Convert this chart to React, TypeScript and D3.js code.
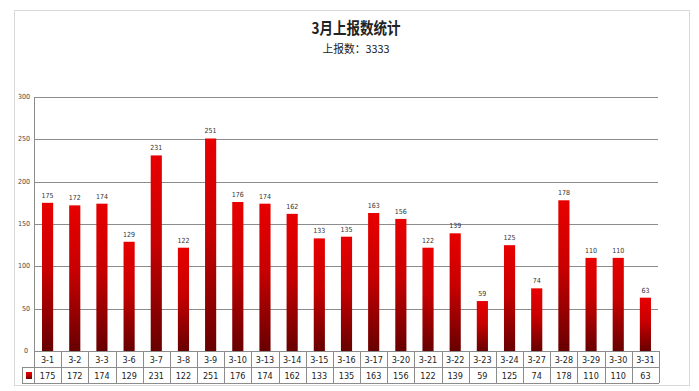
import React, { useEffect, useRef } from 'react';
import * as d3 from 'd3';

const categories = ['3-1', '3-2', '3-3', '3-6', '3-7', '3-8', '3-9', '3-10', '3-13', '3-14', '3-15', '3-16',
  '3-17', '3-20', '3-21', '3-22', '3-23', '3-24', '3-27', '3-28', '3-29', '3-30', '3-31'];
const reports = [175, 172, 174, 129, 231, 122, 251, 176, 174, 162, 133, 135,
  163, 156, 122, 139, 59, 125, 74, 178, 110, 110, 63];
const yTicks = [0, 50, 100, 150, 200, 250, 300];

const W = 699;
const H = 391;
const narrow = '"Liberation Sans Narrow", "DejaVu Sans Condensed", "Liberation Sans", sans-serif';
const cjk = '"Noto Sans CJK SC", sans-serif';

const App = () => {
  const ref = useRef<SVGSVGElement | null>(null);

  useEffect(() => {
    if (!ref.current) return;
    const svg = d3.select(ref.current);
    svg.selectAll('*').remove();

    const left = 34, right = 659, top = 97, bottom = 351;
    const rowH = 16;

    // gradient for the bars
    const grad = svg.append('defs').append('linearGradient')
      .attr('id', 'barFill')
      .attr('x1', 0).attr('y1', 0).attr('x2', 0).attr('y2', 1);
    grad.append('stop').attr('offset', '0%').attr('stop-color', '#e80000');
    grad.append('stop').attr('offset', '45%').attr('stop-color', '#c80000');
    grad.append('stop').attr('offset', '100%').attr('stop-color', '#680000');

    // chart frame
    svg.append('rect')
      .attr('x', 14.5).attr('y', 10.5)
      .attr('width', 675).attr('height', 375)
      .attr('fill', '#fff').attr('stroke', '#d9d9d9');

    // titles
    svg.append('text')
      .attr('x', 356).attr('y', 34)
      .attr('text-anchor', 'middle')
      .attr('textLength', 89).attr('lengthAdjust', 'spacingAndGlyphs')
      .style('font-family', cjk).style('font-size', '16px').style('font-weight', 'bold')
      .attr('fill', '#222')
      .text('3月上报数统计');
    svg.append('text')
      .attr('x', 356).attr('y', 53)
      .attr('text-anchor', 'middle')
      .attr('textLength', 67).attr('lengthAdjust', 'spacingAndGlyphs')
      .style('font-family', cjk).style('font-size', '11px')
      .attr('fill', '#222')
      .text('上报数：3333');

    const x = d3.scaleBand<string>()
      .domain(categories)
      .range([left, right])
      .paddingInner(0)
      .paddingOuter(0);
    const barW = x.bandwidth() * 0.41;

    const y = d3.scaleLinear().domain([0, 300]).range([bottom, top]);

    // grid lines
    svg.append('g').selectAll('line')
      .data(yTicks.slice(1))
      .enter()
      .append('line')
      .attr('x1', left).attr('x2', right - 1)
      .attr('y1', d => Math.round(y(d)) + 0.5).attr('y2', d => Math.round(y(d)) + 0.5)
      .attr('stroke', '#8c8c8c');

    // y axis
    svg.append('line')
      .attr('x1', left + 0.5).attr('x2', left + 0.5)
      .attr('y1', top).attr('y2', bottom)
      .attr('stroke', '#8c8c8c');
    svg.append('g').selectAll('text')
      .data(yTicks)
      .enter()
      .append('text')
      .attr('x', d => d === 0 ? 28 : 30)
      .attr('y', d => y(d) + 2)
      .attr('text-anchor', 'end')
      .style('font-family', narrow).style('font-size', '7px')
      .attr('fill', '#444')
      .text(d => d);

    // bars
    svg.append('g').selectAll('rect')
      .data(reports)
      .enter()
      .append('rect')
      .attr('x', (d, i) => x(categories[i])! + (x.bandwidth() - barW) / 2)
      .attr('y', d => y(d))
      .attr('width', barW)
      .attr('height', d => bottom - y(d))
      .attr('fill', 'url(#barFill)');

    // value labels
    svg.append('g').selectAll('text')
      .data(reports)
      .enter()
      .append('text')
      .attr('x', (d, i) => x(categories[i])! + x.bandwidth() / 2)
      .attr('y', d => y(d) - 5)
      .attr('text-anchor', 'middle')
      .style('font-family', narrow).style('font-size', '7px')
      .attr('fill', '#333')
      .text(d => d);

    // data table
    const table = svg.append('g');
    const tableLeft = 22;
    const lineColor = '#8c8c8c';
    // horizontal lines
    [bottom, bottom + rowH, bottom + rowH * 2].forEach((yy, i) => {
      table.append('line')
        .attr('x1', i === 0 ? left : tableLeft).attr('x2', right)
        .attr('y1', yy + 0.5).attr('y2', yy + 0.5)
        .attr('stroke', lineColor);
    });
    // vertical lines
    const edges = categories.map(c => x(c)!).concat([right]);
    table.selectAll('line.v')
      .data(edges)
      .enter()
      .append('line')
      .attr('class', 'v')
      .attr('x1', d => Math.round(d) + 0.5).attr('x2', d => Math.round(d) + 0.5)
      .attr('y1', bottom).attr('y2', bottom + rowH * 2)
      .attr('stroke', lineColor);
    table.append('line')
      .attr('x1', tableLeft + 0.5).attr('x2', tableLeft + 0.5)
      .attr('y1', bottom + rowH).attr('y2', bottom + rowH * 2)
      .attr('stroke', lineColor);

    // legend key
    table.append('rect')
      .attr('x', 26).attr('y', bottom + rowH + 5)
      .attr('width', 6).attr('height', 7)
      .attr('fill', 'url(#barFill)');

    table.selectAll('text.cat')
      .data(categories)
      .enter()
      .append('text')
      .attr('class', 'cat')
      .attr('x', d => x(d)! + x.bandwidth() / 2)
      .attr('y', bottom + 12)
      .attr('text-anchor', 'middle')
      .style('font-family', narrow).style('font-size', '9px')
      .attr('fill', '#222')
      .text(d => d);

    table.selectAll('text.val')
      .data(reports)
      .enter()
      .append('text')
      .attr('class', 'val')
      .attr('x', (d, i) => x(categories[i])! + x.bandwidth() / 2)
      .attr('y', bottom + rowH + 12)
      .attr('text-anchor', 'middle')
      .style('font-family', narrow).style('font-size', '9px')
      .attr('fill', '#222')
      .text(d => d);
  }, []);

  return (
    <svg
      ref={ref}
      width={W}
      height={H}
      style={{ position: 'absolute', left: 0, top: 0, background: '#fff' }}
    />
  );
};

export default App;
